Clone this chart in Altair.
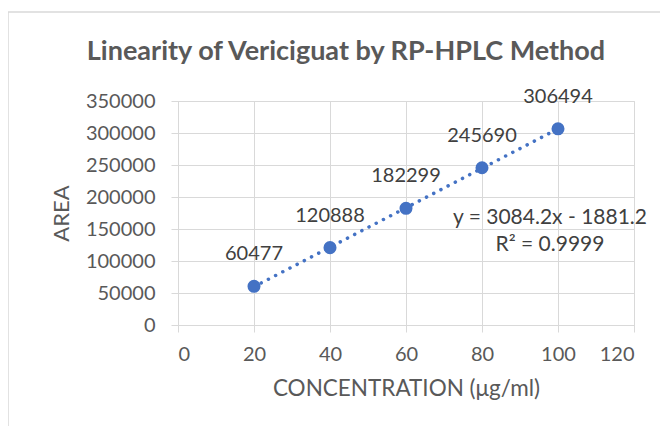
import altair as alt
import pandas as pd

conc = [20, 40, 60, 80, 100]
area = [60477, 120888, 182299, 245690, 306494]
labels = ["60477", "120888", "182299", "245690", "306494"]
equation = ["y = 3084.2x - 1881.2", "R² = 0.9999"]
title = "Linearity of Vericiguat by RP-HPLC Method"
xticks = [0, 20, 40, 60, 80, 100, 120]
yticks = [0, 50000, 100000, 150000, 200000, 250000, 300000, 350000]

df = pd.DataFrame({"x": conc, "y": area, "label": labels})

FONT = "Lato"
GRAY = "#595959"
GRID = "#d9d9d9"
BLUE = "#4472C4"

xax = alt.Axis(values=xticks, title="CONCENTRATION (μg/ml)",
               grid=True, gridColor=GRID, domainColor=GRID, tickColor=GRID, tickSize=7,
               labelOverlap=False,
               labelFont=FONT, labelFontSize=20, labelColor=GRAY, labelPadding=12,
               titleFont=FONT, titleFontSize=22.5, titleColor=GRAY, titleFontWeight="normal",
               titlePadding=13)
yax = alt.Axis(values=yticks, title="AREA", format="d",
               grid=True, gridColor=GRID, domainColor=GRID, tickColor=GRID, tickSize=7,
               labelOverlap=False,
               labelFont=FONT, labelFontSize=20, labelColor=GRAY, labelPadding=16,
               titleFont=FONT, titleFontSize=22, titleColor=GRAY, titleFontWeight="normal",
               titlePadding=12)

X = alt.X("x:Q", scale=alt.Scale(domain=[0, 120], nice=False), axis=xax)
Y = alt.Y("y:Q", scale=alt.Scale(domain=[0, 350000], nice=False), axis=yax)

base = alt.Chart(df)

frame = alt.Chart(pd.DataFrame({"a": [0]})).mark_rect(fill=None, stroke=GRID, strokeWidth=1.5).encode(
    x=alt.value(-170), x2=alt.value(600), y=alt.value(-89), y2=alt.value(500))

head = alt.Chart(pd.DataFrame({"t": [title]})).mark_text(
    font=FONT, fontSize=27, fontWeight="bold", color=GRAY, baseline="middle", align="center").encode(
    x=alt.value(168), y=alt.value(-49), text="t:N")

trend = base.transform_regression("x", "y", extent=[20, 100]).mark_line(
    color=BLUE, strokeWidth=3.5, strokeDash=[0.1, 8], strokeCap="round").encode(x=X, y=Y)

pts = base.mark_circle(size=170, color=BLUE, opacity=1).encode(x=X, y=Y)

txt = base.mark_text(font=FONT, fontSize=20, color="#404040", dy=-26, baseline="alphabetic").encode(
    x=X, y=Y, text="label:N")

eq = alt.Chart(pd.DataFrame({"t": [equation]})).mark_text(
    font=FONT, fontSize=21, color="#404040", lineHeight=27, baseline="middle", align="center").encode(
    x=alt.value(372), y=alt.value(117), text="t")

chart = alt.layer(trend, pts, txt, eq, frame, head).properties(
    width=456, height=224,
    autosize=alt.AutoSizeParams(type="none"),
    padding={"left": 170, "top": 93, "right": 26, "bottom": 101},
).configure_view(stroke=None).configure_axis(labelOverlap=False).configure(background="white")

chart.save("out.html", embed_options={"renderer": "svg", "actions": False})
